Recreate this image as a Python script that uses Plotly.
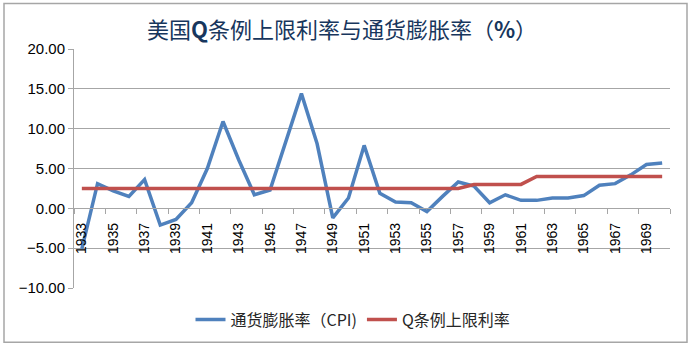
import plotly.graph_objects as go

years = list(range(1933, 1971))
cpi = [-5.1, 3.1, 2.2, 1.5, 3.6, -2.1, -1.4, 0.7, 5.0, 10.9, 6.1, 1.7, 2.3, 8.3,
       14.4, 8.1, -1.2, 1.3, 7.9, 1.9, 0.8, 0.7, -0.4, 1.5, 3.3, 2.8, 0.7, 1.7,
       1.0, 1.0, 1.3, 1.3, 1.6, 2.9, 3.1, 4.2, 5.5, 5.7]
q_cap = [2.5] * 25 + [3.0] * 4 + [4.0] * 9
tick_years = list(range(1933, 1971, 2))
tick_text = [str(y) for y in tick_years]

W, H = 693, 349
L, R, T, B = 74, 23, 49, 58
pw, ph = W - L - R, H - T - B

def px(x):
    return (x - L) / pw

def py(y):
    return (H - B - y) / ph

grid = "#A6A6A6"
fig = go.Figure()
fig.add_trace(go.Scatter(x=years, y=cpi, mode="lines", name="通货膨胀率（CPI)",
                         line=dict(color="#4F81BD", width=3.5)))
fig.add_trace(go.Scatter(x=years, y=q_cap, mode="lines", name="Q条例上限利率",
                         line=dict(color="#C0504D", width=3.5)))

fig.update_layout(
    width=W, height=H,
    margin=dict(l=L, r=R, t=T, b=B),
    paper_bgcolor="white", plot_bgcolor="white",
    font=dict(family="Noto Sans CJK SC, Liberation Sans", size=14, color="#000000"),
    title=dict(text="美国<b>Q</b>条例上限利率与通货膨胀率（<b>%</b>）",
               xref="container", x=342 / W, xanchor="center", y=1 - 30 / H, yanchor="middle",
               font=dict(family="Noto Sans CJK SC", size=22, color="#17365D")),
    showlegend=True,
    legend=dict(orientation="h", x=px(353), xanchor="center", y=py(323), yanchor="middle",
                font=dict(family="Noto Sans CJK SC, Liberation Sans", size=16, color="#262626"),
                bgcolor="rgba(0,0,0,0)"),
    xaxis=dict(range=[1932.5, 1970.5], anchor="free", position=10 / 30,
               showline=True, linecolor=grid, linewidth=1,
               tickmode="array", tickvals=tick_years, ticktext=tick_text,
               tickangle=-90, ticks="", ticklabelstandoff=8,
               tickfont=dict(family="Liberation Sans", size=14, color="#000000"),
               showgrid=False, zeroline=False,
               minor=dict(tick0=1932.5, dtick=2, ticks="outside", ticklen=5,
                          tickcolor=grid, showgrid=False)),
    yaxis=dict(range=[-10, 20], dtick=5, tickformat=".2f",
               showline=True, linecolor=grid, linewidth=1,
               ticks="outside", ticklen=5, tickcolor=grid,
               gridcolor=grid, gridwidth=1, zeroline=False,
               tickfont=dict(family="Liberation Sans", size=15, color="#000000")),
    shapes=[dict(type="rect", xref="paper", yref="paper",
                 x0=px(4), x1=px(687), y0=py(346), y1=py(3),
                 line=dict(color="#A6A6A6", width=1.5), layer="below")],
)

fig.write_html("out.html")
